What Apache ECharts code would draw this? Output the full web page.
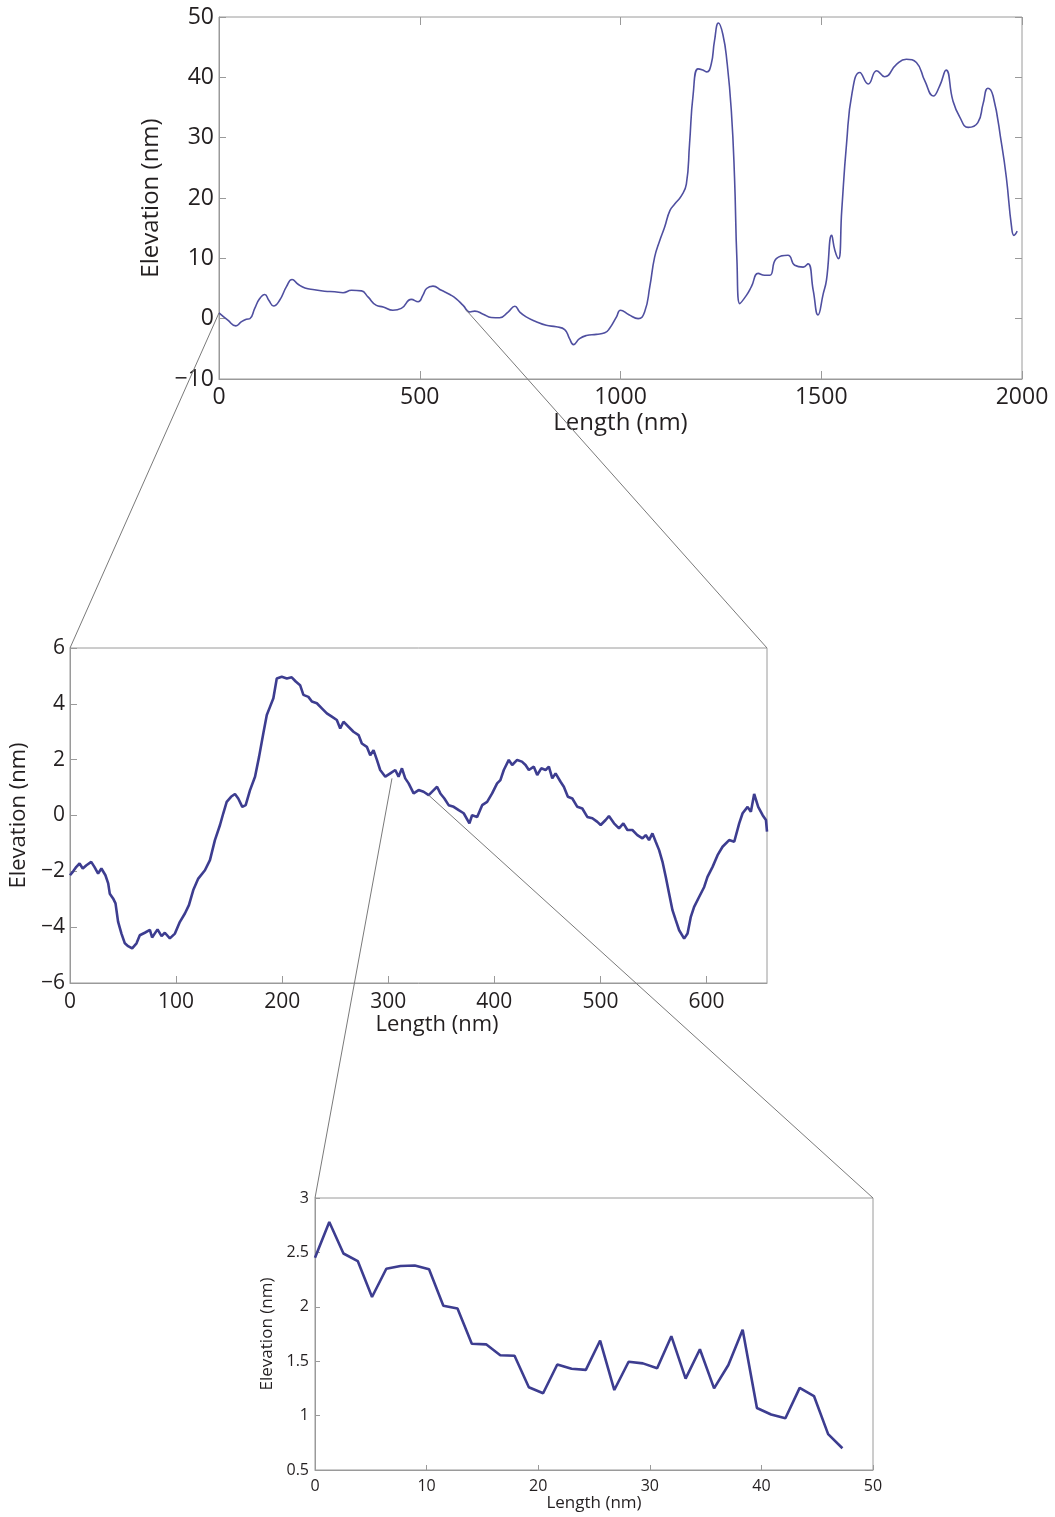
<!DOCTYPE html>
<html lang="en">
<head>
    <meta charset="UTF-8">
    <title>Elevation profiles</title>
    <script src="https://cdn.jsdelivr.net/npm/echarts@6/dist/echarts.min.js"></script>
    <style>
        html, body { margin: 0; padding: 0; background: #fff; }
        #chart { width: 1055px; height: 1517px; }
    </style>
</head>
<body>
<div id="chart"></div>
<script>
    // top profile, 0 - 2000 nm
    var topLen = [0,22,42,56,68,77,89,101,114,124,136,151,168,182,197,214,238,263,288,309,330,355,371,392,409,433,454,479,496,508,517,533,554,575,591,608,625,637,658,678,699,720,737,749,765,790,815,840,861,873,883,898,915,940,961,973,990,1000,1021,1044,1060,1073,1085,1098,1110,1123,1135,1152,1164,1172,1181,1193,1205,1215,1226,1234,1244,1255,1265,1276,1284,1290,1297,1314,1326,1343,1359,1372,1388,1417,1434,1455,1467,1480,1492,1505,1513,1526,1534,1543,1551,1563,1577,1596,1617,1638,1658,1688,1712,1737,1758,1779,1795,1811,1828,1845,1866,1890,1903,1915,1928,1949,1961,1974,1980,1988];
    var topElev = [0.96,-0.25,-1.2,-0.5,-0.1,0,1.7,3.3,4.0,3.05,2.1,3.05,5.3,6.5,5.7,5.1,4.8,4.55,4.45,4.3,4.7,4.6,3.6,2.2,1.95,1.4,1.7,3.2,2.8,3.9,5.0,5.4,4.7,4.0,3.3,2.2,1.1,1.25,0.75,0.2,0.15,1.1,2.05,1.1,0.3,-0.5,-1.1,-1.35,-1.8,-3.3,-4.3,-3.3,-2.8,-2.6,-2.35,-1.6,0.3,1.4,0.65,0.0,1.1,5.3,10.2,13.0,15.2,17.9,19.0,20.4,22.3,29.0,37.2,41.4,41.2,40.9,42.2,46.0,49.0,47.1,42.7,34.5,23.4,9.7,2.5,3.9,5.3,7.5,7.2,7.2,9.95,10.5,8.85,8.55,9.1,4.7,0.6,4.15,6.4,13.8,11.3,9.95,17.9,29.0,37.5,40.8,38.9,41.1,40.1,42.2,43.0,42.45,39.4,36.9,38.6,41.2,36.1,33.4,31.7,32.5,35.6,38.2,36.9,29.0,23.4,15.2,13.8,14.5];

    // middle profile, 0 - 657 nm
    var midLen = [0,3,6,9,12,15.5,20,23,26.5,29.6,33.4,36,37.5,40.6,42.9,45.3,48.5,51.7,54.8,58.6,62.7,65.8,70.5,75.3,77.4,82.5,86.3,89.4,94.1,98.9,103.6,108.3,112.1,116.2,120.9,127.2,131.9,136.6,141.4,144.5,147.7,151.8,155.5,158.6,162.4,165.6,169.7,174.4,178.2,182.2,185.5,188.6,191.7,194.9,199.6,204.4,209,212.8,216.9,220,224.7,228,232.7,237.4,242.1,246.8,251.5,254.7,257.8,262.5,267.2,272,275.1,279.8,283,286.1,289.3,292.4,297.2,301.9,306.6,309.7,312.9,316,319.2,323.9,328.6,333.3,338.1,342.8,346,349.1,352.9,356.9,361.7,366.4,371.1,376.5,379,383.8,388.5,393.2,397.9,402.6,405.7,408.9,413.6,416.8,421.5,426,429.4,432.5,437.2,440.4,444.2,448.3,451.4,454.6,457.7,462.4,465.5,469.3,473.5,478.2,482.9,487.6,492.4,497.1,500.2,504.9,508,512.8,517.5,521.6,525.4,530.1,534.8,539.6,542.7,545.8,549,552.1,555.3,558.5,561.6,564.7,567.9,571,574.2,578.9,582.1,585.2,588.3,593.1,597.8,600.9,605.7,610.4,615.1,621.3,626.1,630.8,634,638.7,641.8,644.9,648.7,652.9,656,657];
    var midElev = [-2.14,-2.0,-1.84,-1.72,-1.9,-1.78,-1.66,-1.84,-2.08,-1.9,-2.14,-2.43,-2.8,-2.97,-3.15,-3.8,-4.23,-4.58,-4.68,-4.76,-4.58,-4.29,-4.2,-4.1,-4.37,-4.08,-4.32,-4.2,-4.4,-4.23,-3.81,-3.51,-3.21,-2.67,-2.26,-1.96,-1.6,-0.88,-0.34,0.08,0.49,0.67,0.77,0.61,0.31,0.37,0.91,1.39,2.1,2.94,3.6,3.9,4.2,4.91,4.97,4.91,4.95,4.8,4.67,4.32,4.25,4.08,4.02,3.84,3.66,3.54,3.42,3.12,3.36,3.18,3.0,2.88,2.58,2.46,2.16,2.34,1.99,1.63,1.39,1.51,1.63,1.39,1.69,1.33,1.15,0.79,0.91,0.85,0.73,0.91,1.03,0.79,0.61,0.37,0.31,0.19,0.08,-0.28,0.01,-0.05,0.37,0.49,0.79,1.15,1.27,1.63,1.99,1.81,1.99,1.93,1.81,1.63,1.75,1.45,1.69,1.63,1.75,1.33,1.51,1.21,1.03,0.67,0.61,0.31,0.25,-0.05,-0.1,-0.23,-0.34,-0.16,-0.02,-0.28,-0.46,-0.28,-0.52,-0.52,-0.7,-0.82,-0.7,-0.88,-0.64,-0.94,-1.24,-1.66,-2.2,-2.79,-3.39,-3.75,-4.11,-4.41,-4.23,-3.63,-3.27,-2.91,-2.56,-2.2,-1.84,-1.42,-1.12,-0.88,-0.94,-0.28,0.08,0.31,0.13,0.77,0.31,0.01,-0.16,-0.58];

    // bottom profile, 0 - 50 nm
    var zoomLen = [0,1.28,2.55,3.83,5.11,6.39,7.66,8.94,10.22,11.5,12.77,14.05,15.33,16.6,17.88,19.16,20.44,21.71,22.99,24.27,25.55,26.82,28.1,29.38,30.66,31.93,33.21,34.49,35.76,37.04,38.32,39.6,40.87,42.15,43.43,44.71,45.98,47.26];
    var zoomElev = [2.45,2.78,2.49,2.42,2.09,2.35,2.375,2.38,2.345,2.01,1.985,1.66,1.655,1.555,1.55,1.26,1.205,1.47,1.43,1.42,1.69,1.235,1.495,1.48,1.435,1.73,1.34,1.61,1.25,1.465,1.79,1.07,1.01,0.975,1.255,1.18,0.83,0.7];

    // axis ranges: [min, max, interval]
    var topXRange = [0, 2000, 500], topYRange = [-10, 50, 10];
    var midXRange = [0, 657, 100], midYRange = [-6, 6, 2];
    var zoomXRange = [0, 50, 10], zoomYRange = [0.5, 3, 0.5];

    // zoom guide lines: [seriesIndex, length, elevation] -> [seriesIndex, length, elevation]
    var linkFrom = [[0, 0, 0.96], [0, 616, 1.4], [1, 303.5, 1.33], [1, 338, 0.73]];
    var linkTo = [[1, 0, 6], [1, 657, 6], [2, 0, 3], [2, 50, 3]];

    var FONT = 'Open Sans';
    var TXT = '#231f20';
    var BOX = '#9a9a9a';

    function fmt(v) {
        return String(v).replace('-', '\u2212');
    }
    function pairs(xs, ys) {
        var out = [];
        for (var i = 0; i < xs.length; i++) out.push([xs[i], ys[i]]);
        return out;
    }
    function mainX(grid, r, fs, tick, margin, gap, pad) {
        return {
            gridIndex: grid, type: 'value', min: r[0], max: r[1], interval: r[2],
            name: 'Length (nm)', nameLocation: 'middle', nameGap: gap,
            nameTextStyle: { fontFamily: FONT, fontSize: fs + 1, color: TXT, padding: pad || 0 },
            axisLine: { show: true, onZero: false, lineStyle: { color: BOX, width: 1 } },
            axisTick: { show: true, inside: true, length: tick, lineStyle: { color: BOX } },
            axisLabel: { fontFamily: FONT, fontSize: fs, color: TXT, margin: margin, formatter: fmt, showMaxLabel: r[1] % r[2] === 0 },
            splitLine: { show: false }
        };
    }
    function mainY(grid, r, fs, tick, margin, gap) {
        return {
            gridIndex: grid, type: 'value', min: r[0], max: r[1], interval: r[2],
            name: 'Elevation (nm)', nameLocation: 'middle', nameGap: gap,
            nameTextStyle: { fontFamily: FONT, fontSize: fs + 1, color: TXT },
            axisLine: { show: true, onZero: false, lineStyle: { color: BOX, width: 1 } },
            axisTick: { show: true, inside: true, length: tick, lineStyle: { color: BOX } },
            axisLabel: { fontFamily: FONT, fontSize: fs, color: TXT, margin: margin, formatter: fmt },
            splitLine: { show: false }
        };
    }
    // box-style ticks on the opposite sides (top / right)
    function mirror(grid, r, pos, tick) {
        return {
            gridIndex: grid, type: 'value', min: r[0], max: r[1], interval: r[2], position: pos,
            axisLine: { show: false, onZero: false },
            axisTick: { show: true, inside: true, length: tick, lineStyle: { color: BOX } },
            axisLabel: { show: false },
            splitLine: { show: false }
        };
    }

    var chart = echarts.init(document.getElementById('chart'), null, { renderer: 'canvas' });

    var option = {
        backgroundColor: '#ffffff',
        animation: false,
        grid: [
            { left: 219, top: 17, width: 803, height: 362, show: true, borderColor: BOX, borderWidth: 1 },
            { left: 70, top: 648, width: 697, height: 335, show: true, borderColor: BOX, borderWidth: 1 },
            { left: 315, top: 1198, width: 558, height: 272, show: true, borderColor: BOX, borderWidth: 1 }
        ],
        xAxis: [
            mainX(0, topXRange, 23, 8, 7, 32),
            mirror(0, topXRange, 'top', 8),
            mainX(1, midXRange, 21, 7, 9, 28, [0, 0, 0, 37]),
            mainX(2, zoomXRange, 16, 5, 8, 22)
        ],
        yAxis: [
            mainY(0, topYRange, 23, 7, 5, 52),
            mirror(0, topYRange, 'right', 7),
            mainY(1, midYRange, 21, 7, 5, 36),
            mainY(2, zoomYRange, 16, 5, 6, 30)
        ],
        series: [
            {
                type: 'line', xAxisIndex: 0, yAxisIndex: 0,
                data: pairs(topLen, topElev), showSymbol: false,
                smooth: 0.5,
                lineStyle: { color: '#4f4fa0', width: 1.6 }
            },
            {
                type: 'line', xAxisIndex: 2, yAxisIndex: 2,
                data: pairs(midLen, midElev), showSymbol: false,
                lineStyle: { color: '#3d3d90', width: 2.6 }
            },
            {
                type: 'line', xAxisIndex: 3, yAxisIndex: 3,
                data: pairs(zoomLen, zoomElev), showSymbol: false,
                lineStyle: { color: '#3d3d90', width: 2.6 }
            }
        ]
    };
    chart.setOption(option);

    // guide lines between panels, placed through each grid's own axes
    var links = [];
    for (var k = 0; k < linkFrom.length; k++) {
        var a = chart.convertToPixel({ seriesIndex: linkFrom[k][0] }, [linkFrom[k][1], linkFrom[k][2]]);
        var b = chart.convertToPixel({ seriesIndex: linkTo[k][0] }, [linkTo[k][1], linkTo[k][2]]);
        links.push({
            type: 'line', z: 100, silent: true,
            shape: { x1: a[0], y1: a[1], x2: b[0], y2: b[1] },
            style: { stroke: '#7a7a7a', lineWidth: 1 }
        });
    }
    chart.setOption({ graphic: links });
</script>
</body>
</html>
